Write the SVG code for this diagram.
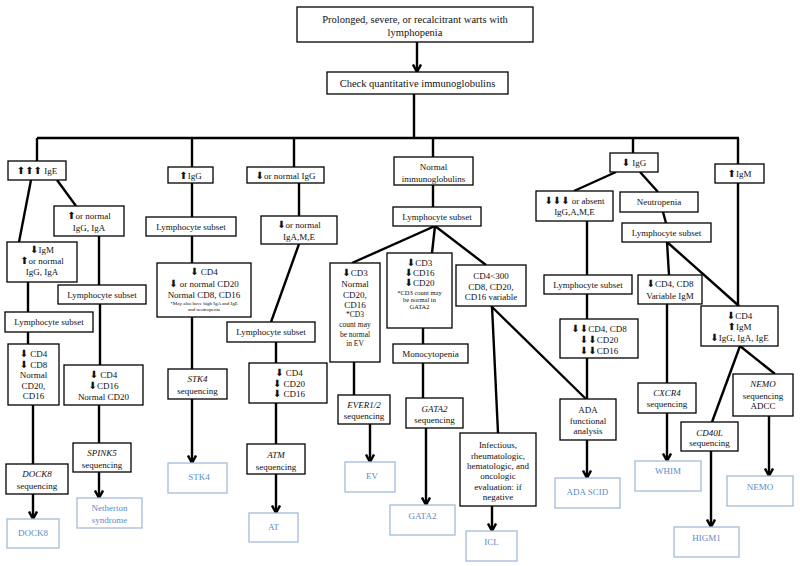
<svg xmlns="http://www.w3.org/2000/svg" width="800" height="566" viewBox="0 0 800 566">
<style>
.b{fill:#fff;stroke:#000;stroke-width:1.3}
.r{fill:#fff;stroke:#a3bcd8;stroke-width:1.3}
text{font-family:"Liberation Serif",serif;font-size:9px;text-anchor:middle;fill:#111}
.big{font-size:10.5px}
.rt{fill:#5b8bc7}
.i{font-style:italic}
.s5{font-size:5px}
.s6{font-size:6.5px}
.s7{font-size:7.5px}
.ar{font-family:"DejaVu Sans",sans-serif;font-size:10px}
.c line{stroke:#000;stroke-width:2.4;fill:none}
.c .a{marker-end:url(#ah)}
</style>
<defs>
<marker id="ah" viewBox="0 0 10 10" refX="8.5" refY="5" markerWidth="10" markerHeight="10" markerUnits="userSpaceOnUse" orient="auto">
<path d="M1,1 L8.5,5 L1,9" fill="none" stroke="#000" stroke-width="2.4"/>
</marker>
</defs>
<rect width="800" height="566" fill="#fff"/>
<g class="c" id="connectors">
<line class="a" x1="417" y1="42" x2="417" y2="72"/>
<line x1="414" y1="94" x2="414" y2="138"/>
<line x1="37" y1="138" x2="739" y2="138"/>
<line x1="37" y1="138" x2="37" y2="161"/>
<line x1="192" y1="138" x2="192" y2="167"/>
<line x1="294" y1="138" x2="294" y2="167"/>
<line x1="433" y1="138" x2="433" y2="157"/>
<line x1="633" y1="138" x2="633" y2="153"/>
<line x1="738" y1="138" x2="738" y2="164"/>
<line x1="57" y1="180" x2="76" y2="206"/>
<line x1="31" y1="180" x2="19" y2="242"/>
<line x1="99" y1="236" x2="99" y2="285"/>
<line x1="28" y1="282" x2="28" y2="312"/>
<line x1="28" y1="332" x2="28" y2="344"/>
<line x1="100" y1="304" x2="100" y2="365"/>
<line x1="33" y1="405" x2="33" y2="464"/>
<line class="a" x1="33" y1="494" x2="33" y2="519"/>
<line x1="99" y1="405" x2="99" y2="443"/>
<line class="a" x1="99" y1="472" x2="99" y2="498"/>
<line x1="192" y1="183" x2="192" y2="217"/>
<line x1="192" y1="236" x2="192" y2="263"/>
<line x1="192" y1="317" x2="192" y2="369"/>
<line class="a" x1="192" y1="399" x2="192" y2="463"/>
<line x1="299" y1="183" x2="299" y2="216"/>
<line x1="299" y1="244" x2="271" y2="322"/>
<line x1="276" y1="342" x2="276" y2="363"/>
<line x1="276" y1="403" x2="276" y2="444"/>
<line class="a" x1="276" y1="474" x2="276" y2="513"/>
<line x1="433" y1="185" x2="433" y2="207"/>
<line x1="435" y1="226" x2="352" y2="263"/>
<line x1="435" y1="226" x2="432" y2="253"/>
<line x1="435" y1="226" x2="486" y2="265"/>
<line x1="354" y1="362" x2="354" y2="395"/>
<line class="a" x1="370" y1="424" x2="370" y2="462"/>
<line x1="423" y1="328" x2="423" y2="344"/>
<line x1="423" y1="363" x2="423" y2="398"/>
<line class="a" x1="426" y1="428" x2="426" y2="505"/>
<line x1="492" y1="306" x2="498" y2="433"/>
<line x1="491" y1="306" x2="586" y2="399"/>
<line class="a" x1="492" y1="506" x2="492" y2="531"/>
<line x1="616" y1="172" x2="574" y2="191"/>
<line x1="640" y1="172" x2="658" y2="192"/>
<line x1="587" y1="221" x2="587" y2="275"/>
<line x1="587" y1="294" x2="587" y2="319"/>
<line x1="587" y1="358" x2="587" y2="399"/>
<line class="a" x1="587" y1="440" x2="587" y2="478"/>
<line x1="663" y1="212" x2="666" y2="223"/>
<line x1="667" y1="242" x2="669" y2="275"/>
<line x1="667" y1="242" x2="739" y2="306"/>
<line x1="738" y1="183" x2="738" y2="306"/>
<line x1="667" y1="304" x2="667" y2="383"/>
<line class="a" x1="667" y1="413" x2="667" y2="461"/>
<line x1="740" y1="346" x2="712" y2="422"/>
<line x1="740" y1="346" x2="775" y2="374"/>
<line class="a" x1="711" y1="451" x2="711" y2="527"/>
<line class="a" x1="769" y1="416" x2="769" y2="476"/>
</g>

<g id="n_top"><rect class="b" x="297" y="7" width="236" height="35"/><text class="big" x="415" y="23">Prolonged, severe, or recalcitrant warts with</text><text class="big" x="415" y="36">lymphopenia</text></g>
<g id="n_check"><rect class="b" x="327" y="72" width="181" height="22"/><text class="big" x="417.5" y="87">Check quantitative immunoglobulins</text></g>

<g id="n_ige"><rect class="b" x="8" y="161" width="58" height="19"/><text x="37" y="174"><tspan class="ar">⬆⬆⬆</tspan> IgE</text></g>
<g id="n_ig1"><rect class="b" x="54" y="206" width="70" height="30"/><text x="89" y="219"><tspan class="ar">⬆</tspan>or normal</text><text x="89" y="231">IgG, IgA</text></g>
<g id="n_igm"><rect class="b" x="7" y="242" width="70" height="40"/><text x="42" y="253"><tspan class="ar">⬇</tspan>IgM</text><text x="42" y="264"><tspan class="ar">⬆</tspan>or normal</text><text x="42" y="275">IgG, IgA</text></g>
<g id="n_ls1"><rect class="b" x="58" y="285" width="88" height="19"/><text x="102" y="298">Lymphocyte subset</text></g>
<g id="n_ls2"><rect class="b" x="5" y="312" width="88" height="20"/><text x="49" y="325">Lymphocyte subset</text></g>
<g id="n_cd4a"><rect class="b" x="8" y="344" width="51" height="61"/><text x="33.5" y="357"><tspan class="ar">⬇</tspan> CD4</text><text x="33.5" y="368"><tspan class="ar">⬇</tspan> CD8</text><text x="33.5" y="378">Normal</text><text x="33.5" y="389">CD20,</text><text x="33.5" y="399">CD16</text></g>
<g id="n_cd4b"><rect class="b" x="64" y="365" width="79" height="40"/><text x="103.5" y="378"><tspan class="ar">⬇</tspan> CD4</text><text x="103.5" y="389"><tspan class="ar">⬇</tspan>CD16</text><text x="103.5" y="400">Normal CD20</text></g>
<g id="n_dock8s"><rect class="b" x="6" y="464" width="62" height="30"/><text class="i" x="37" y="477">DOCK8</text><text x="37" y="489">sequencing</text></g>
<g id="n_dock8"><rect class="r" x="7" y="519" width="52" height="29"/><text class="rt" x="33" y="536">DOCK8</text></g>
<g id="n_spink"><rect class="b" x="73" y="443" width="58" height="29"/><text class="i" x="102" y="456">SPINK5</text><text x="102" y="468">sequencing</text></g>
<g id="n_neth"><rect class="r" x="77" y="498" width="65" height="30"/><text class="rt" x="109.5" y="511">Netherton</text><text class="rt" x="109.5" y="523">syndrome</text></g>

<g id="n_igg"><rect class="b" x="168" y="167" width="45" height="16"/><text x="190.5" y="178.5"><tspan class="ar">⬆</tspan>IgG</text></g>
<g id="n_ls3"><rect class="b" x="146" y="217" width="90" height="19"/><text x="191" y="229.5">Lymphocyte subset</text></g>
<g id="n_cd4c"><rect class="b" x="157" y="263" width="94" height="54"/><text x="204" y="275"><tspan class="ar">⬇</tspan> CD4</text><text x="204" y="287"><tspan class="ar">⬇</tspan> or normal CD20</text><text x="204" y="298">Normal CD8, CD16</text><text class="s5" x="204" y="305">*May also have high IgA and IgE</text><text class="s5" x="204" y="311">and neutropenia</text></g>
<g id="n_stk4s"><rect class="b" x="168" y="369" width="59" height="30"/><text class="i" x="197.5" y="382">STK4</text><text x="197.5" y="394">sequencing</text></g>
<g id="n_stk4"><rect class="r" x="168" y="463" width="59" height="30"/><text class="rt" x="199" y="480">STK4</text></g>

<g id="n_ign"><rect class="b" x="247" y="167" width="77" height="16"/><text x="285.5" y="178.5"><tspan class="ar">⬇</tspan>or normal IgG</text></g>
<g id="n_igame"><rect class="b" x="261" y="216" width="76" height="28"/><text x="299" y="228"><tspan class="ar">⬇</tspan>or normal</text><text x="299" y="240">IgA,M,E</text></g>
<g id="n_ls4"><rect class="b" x="227" y="322" width="88" height="20"/><text x="271" y="335">Lymphocyte subset</text></g>
<g id="n_cd4d"><rect class="b" x="249" y="363" width="78" height="40"/><text x="289" y="376"><tspan class="ar">⬇</tspan> CD4</text><text x="289" y="386.5"><tspan class="ar">⬇</tspan> CD20</text><text x="289" y="397"><tspan class="ar">⬇</tspan> CD16</text></g>
<g id="n_atm"><rect class="b" x="247" y="444" width="58" height="30"/><text class="i" x="276" y="458">ATM</text><text x="276" y="470">sequencing</text></g>
<g id="n_at"><rect class="r" x="249" y="513" width="49" height="29"/><text class="rt" x="273.5" y="530">AT</text></g>

<g id="n_norm"><rect class="b" x="394" y="157" width="79" height="28"/><text x="433.5" y="170">Normal</text><text x="433.5" y="181.5">immunoglobulins</text></g>
<g id="n_ls5"><rect class="b" x="393" y="207" width="88" height="19"/><text x="437" y="219.5">Lymphocyte subset</text></g>
<g id="n_ev1"><rect class="b" x="330" y="263" width="50" height="99"/><text x="355" y="276"><tspan class="ar">⬇</tspan>CD3</text><text x="355" y="287">Normal</text><text x="355" y="297.5">CD20,</text><text x="355" y="308">CD16</text><text class="s7" x="355" y="317">*CD3</text><text class="s7" x="355" y="327">count may</text><text class="s7" x="355" y="336.5">be normal</text><text class="s7" x="355" y="346">in EV</text></g>
<g id="n_ev2"><rect class="b" x="387" y="253" width="65" height="75"/><text x="419.5" y="266"><tspan class="ar">⬇</tspan>CD3</text><text x="419.5" y="276"><tspan class="ar">⬇</tspan>CD16</text><text x="419.5" y="286"><tspan class="ar">⬇</tspan>CD20</text><text class="s6" x="419.5" y="295">*CD3 count may</text><text class="s6" x="419.5" y="302">be normal in</text><text class="s6" x="419.5" y="309">GATA2</text></g>
<g id="n_cd4300"><rect class="b" x="456" y="265" width="70" height="41"/><text x="491" y="279">CD4&lt;300</text><text x="491" y="290">CD8, CD20,</text><text x="491" y="300">CD16 variable</text></g>
<g id="n_ever"><rect class="b" x="338" y="395" width="52" height="29"/><text class="i" x="364" y="408">EVER1/2</text><text x="364" y="419">sequencing</text></g>
<g id="n_ev"><rect class="r" x="345" y="462" width="50" height="30"/><text class="rt" x="372" y="479">EV</text></g>
<g id="n_mono"><rect class="b" x="393" y="344" width="75" height="19"/><text x="430.5" y="356.5">Monocytopenia</text></g>
<g id="n_gata2s"><rect class="b" x="406" y="398" width="57" height="30"/><text class="i" x="434.5" y="412">GATA2</text><text x="434.5" y="423">sequencing</text></g>
<g id="n_gata2"><rect class="r" x="390" y="505" width="65" height="30"/><text class="rt" x="422.5" y="519">GATA2</text></g>
<g id="n_inf"><rect class="b" x="460" y="433" width="76" height="73"/><text x="498" y="448">Infectious,</text><text x="498" y="458.5">rheumatologic,</text><text x="498" y="469">hematologic, and</text><text x="498" y="479">oncologic</text><text x="498" y="489.5">evaluation: if</text><text x="498" y="500">negative</text></g>
<g id="n_icl"><rect class="r" x="466" y="531" width="51" height="30"/><text class="rt" x="491.5" y="545">ICL</text></g>

<g id="n_igg2"><rect class="b" x="610" y="153" width="48" height="19"/><text x="634" y="166"><tspan class="ar">⬇</tspan> IgG</text></g>
<g id="n_abs"><rect class="b" x="536" y="191" width="77" height="30"/><text x="574.5" y="204"><tspan class="ar">⬇⬇⬇</tspan> or absent</text><text x="574.5" y="215">IgG,A,M,E</text></g>
<g id="n_neut"><rect class="b" x="620" y="192" width="78" height="20"/><text x="659" y="205">Neutropenia</text></g>
<g id="n_ls6"><rect class="b" x="544" y="275" width="88" height="19"/><text x="588" y="288">Lymphocyte subset</text></g>
<g id="n_ls7"><rect class="b" x="622" y="223" width="89" height="19"/><text x="666.5" y="235.5">Lymphocyte subset</text></g>
<g id="n_dd"><rect class="b" x="560" y="319" width="78" height="39"/><text x="599" y="332"><tspan class="ar">⬇⬇</tspan>CD4, CD8</text><text x="599" y="343"><tspan class="ar">⬇⬇</tspan>CD20</text><text x="599" y="354"><tspan class="ar">⬇⬇</tspan>CD16</text></g>
<g id="n_ada"><rect class="b" x="560" y="399" width="56" height="41"/><text x="588" y="413">ADA</text><text x="588" y="424">functional</text><text x="588" y="434">analysis</text></g>
<g id="n_adascid"><rect class="r" x="555" y="478" width="65" height="30"/><text class="rt" x="587.5" y="495">ADA SCID</text></g>
<g id="n_cd48"><rect class="b" x="638" y="275" width="64" height="29"/><text x="670" y="287"><tspan class="ar">⬇</tspan>CD4, CD8</text><text x="670" y="299">Variable IgM</text></g>
<g id="n_cxcr4"><rect class="b" x="638" y="383" width="58" height="30"/><text class="i" x="667" y="396">CXCR4</text><text x="667" y="407">sequencing</text></g>
<g id="n_whim"><rect class="r" x="635" y="461" width="66" height="30"/><text class="rt" x="668" y="474">WHIM</text></g>
<g id="n_igm2"><rect class="b" x="715" y="164" width="49" height="19"/><text x="739.5" y="177"><tspan class="ar">⬆</tspan>IgM</text></g>
<g id="n_cd4e"><rect class="b" x="701" y="306" width="77" height="40"/><text x="739.5" y="319"><tspan class="ar">⬇</tspan>CD4</text><text x="739.5" y="330"><tspan class="ar">⬆</tspan>IgM</text><text x="739.5" y="341"><tspan class="ar">⬇</tspan>IgG, IgA, IgE</text></g>
<g id="n_cd40l"><rect class="b" x="681" y="422" width="57" height="29"/><text class="i" x="709.5" y="436">CD40L</text><text x="709.5" y="446">sequencing</text></g>
<g id="n_higm1"><rect class="r" x="674" y="527" width="65" height="30"/><text class="rt" x="706.5" y="541">HIGM1</text></g>
<g id="n_nemos"><rect class="b" x="733" y="374" width="60" height="42"/><text class="i" x="763" y="387">NEMO</text><text x="763" y="399">sequencing</text><text x="763" y="409">ADCC</text></g>
<g id="n_nemo"><rect class="r" x="727" y="476" width="66" height="30"/><text class="rt" x="760" y="490">NEMO</text></g>
</svg>
